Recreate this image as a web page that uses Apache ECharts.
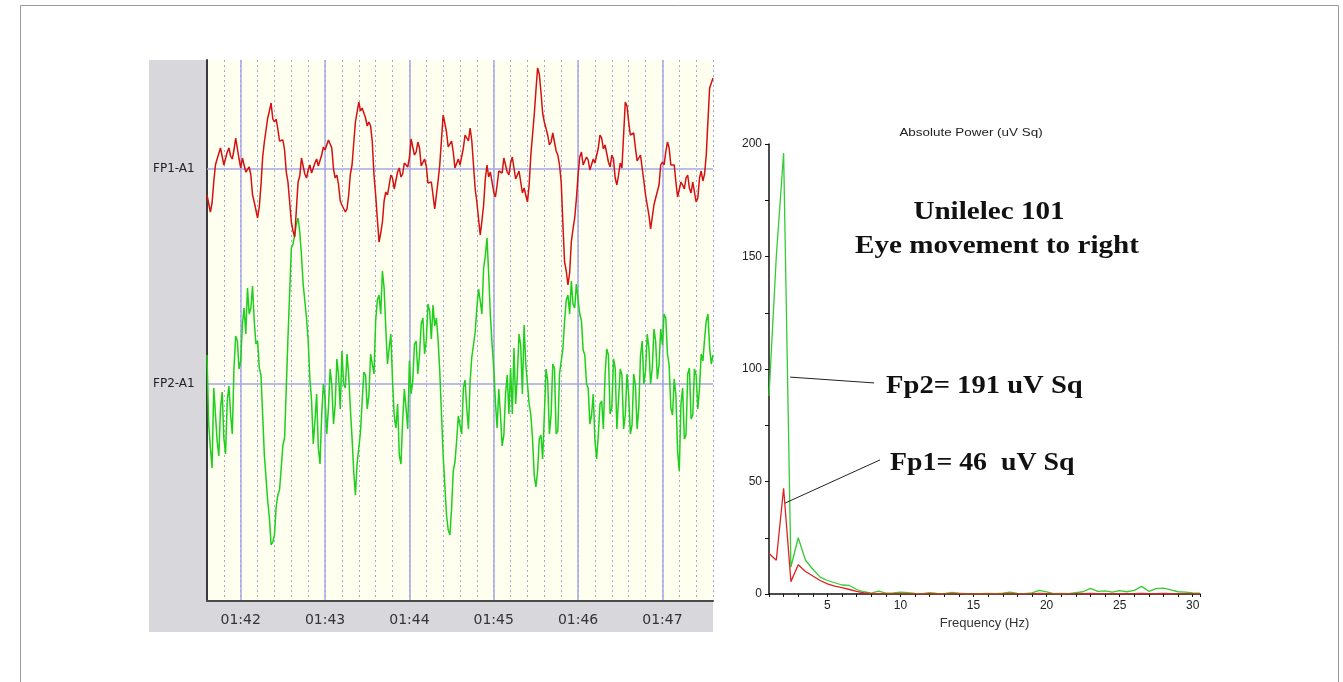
<!DOCTYPE html>
<html lang="en">
<head>
    <meta charset="UTF-8">
    <title>Unilelec 101 - Eye movement to right</title>
    <script src="https://cdn.jsdelivr.net/npm/echarts@6.0.0/dist/echarts.min.js"></script>
    <style>
        html, body { margin: 0; padding: 0; background: #fff; }
        #main { width: 1343px; height: 682px; }
    </style>
</head>
<body>
<div id="main"></div>
<script type="text/javascript">
    // EEG traces: one sample every 0.02 s, starting at 101.6 s (01:41.6)
    var t0 = 101.6;
    var dt = 0.02;
    // FP1-A1 amplitude (relative to its baseline)
    var fp1 = [
        -26, -28, -43, -34, -13, 4, 10, 10, 21, 19, 4, 5, 17, 21, 13, 10, 19, 31, 31, 10,
        1, 11, 9, -3, -3, 2, -6, -26, -33, -35, -49, -38, -16, 12, 27, 39, 51, 58, 66, 50,
        47, 50, 40, 28, 27, 29, 19, -3, -13, -33, -53, -62, -68, -40, -13, -7, 11, 9, -5, -9,
        -1, 4, -4, -5, 6, 10, 3, 2, 14, 22, 19, 18, 29, 31, 21, 0, -9, -6, -16, -32,
        -36, -34, -43, -40, -26, -5, 4, 26, 47, 57, 67, 58, 61, 62, 51, 43, 47, 43, 27, -6,
        -26, -50, -73, -64, -53, -32, -23, -26, -16, -6, -9, -20, -19, -3, 1, -8, -5, 6, 4, 2,
        11, 30, 32, 14, 17, 27, 21, 3, 1, 10, 3, -14, -16, -13, -26, -40, -39, -12, 4, 29,
        54, 46, 37, 22, 24, 28, 17, 1, 1, 10, 4, 4, 21, 34, 31, 28, 41, 28, 4, -20,
        -33, -50, -66, -52, -36, -10, 4, -8, -3, -5, -23, -28, -16, -2, -3, -4, 11, 12, -3, -6,
        6, 12, 1, -10, -6, -2, -13, -24, -19, -18, -33, -16, 14, 34, 54, 78, 101, 95, 77, 56,
        47, 46, 34, 24, 27, 36, 34, 18, 14, 4, -13, -55, -93, -102, -116, -104, -73, -60, -49, -30,
        -6, 12, 17, 4, 4, 12, 9, -1, 1, 10, 6, 8, 21, 34, 31, 20, 24, 24, 7, 2,
        14, 10, -9, -16, -6, 6, 1, 34, 67, 63, 47, 34, 34, 36, 21, 8, 11, 14, 1, -12,
        -26, -28, -46, -60, -59, -36, -29, -30, -16, 4, 7, 4, 17, 27, 21, 4, 4, 4, -13, -28,
        -26, -13, -16, -20, -9, -6, -19, -24, -13, -15, -33, -29, -9, -2, -12, -5, 14, 48, 81, 86,
        91];
    // FP2-A1 amplitude (relative to its baseline)
    var fp2 = [
        29, -40, -64, -84, -4, -30, -57, -72, -24, -8, -54, -70, -17, -2, -31, -50, 16, 48, 43, 15,
        23, 60, 76, 50, 96, 70, 76, 98, 63, 40, 43, 16, 9, -31, -71, -94, -117, -134, -161, -158,
        -151, -123, -111, -106, -84, -61, -54, -4, 46, 91, 136, 140, 149, 160, 166, 152, 129, 100, 83, 66,
        43, 5, -17, -60, -37, -10, -64, -80, -31, 0, -14, -50, -24, 15, -1, -40, -21, 25, 9, -25,
        33, 0, -4, 30, 9, -25, -54, -88, -111, -80, -64, -48, -17, 12, 9, -25, -11, 30, 29, 10,
        63, 84, 89, 70, 113, 96, 56, 20, 36, 50, 3, -32, -44, -20, -71, -80, -37, -5, -24, -45,
        23, -10, 3, 40, 43, 10, 29, 60, 66, 30, 43, 80, 73, 45, 79, 58, 66, 44, 13, -29,
        -71, -101, -131, -146, -151, -125, -87, -78, -57, -32, -31, -50, -4, 4, -24, -45, 3, 27, 39, 52,
        76, 95, 83, 70, 116, 128, 146, 110, 69, 40, 16, -18, -44, -5, -31, -62, -51, -10, 9, -30,
        16, -30, 36, -20, 9, 50, 39, -10, 59, 20, 19, -20, -31, -55, -91, -103, -87, -55, -51, -75,
        -31, 15, 3, -50, -31, 20, 16, -50, -47, 10, 23, 35, 63, 84, 89, 70, 103, 80, 76, 100,
        99, 70, 63, 34, 29, 0, -4, -40, -31, -10, -57, -75, -51, -20, -17, -45, 9, 35, 29, -30,
        -24, 25, 16, -45, -44, 15, 9, -45, -31, 10, -11, -50, -41, 10, -1, -45, -24, 28, 43, 0,
        13, 50, 36, 0, 16, 55, 43, 5, 19, 55, 39, 70, 66, 30, 19, -24, -31, 5, -11, -67,
        -87, -20, -4, -55, -51, 10, 16, -35, -31, 15, 9, -25, -4, 30, 23, 45, 63, 70, 36, 20,
        29];
    var secTicks = [102, 103, 104, 105, 106, 107];
    var secLabels = ['01:42', '01:43', '01:44', '01:45', '01:46', '01:47'];
    var channelNames = ['FP1-A1', 'FP2-A1'];

    // spectrum: 0.5 Hz bins starting at 1 Hz
    var freqStart = 1;
    var freqStep = 0.5;
    var powFp2 = [88, 150, 196, 12, 25, 15, 11, 7.5, 6, 5, 4, 3.8, 2, 1, 0.4, 1.3, 0.4, 0.5, 0.8, 0.6,
        0.3, 0.2, 0.6, 0.3, 0.2, 0.7, 0.4, 0.2, 0.1, 0.2, 0.3, 0.2, 0.4, 0.8, 0.3, 0.2, 0.5, 1.6, 0.9, 0.2,
        0.3, 0.2, 0.6, 1.0, 2.5, 1.2, 1.4, 0.8, 1.5, 1.0, 1.6, 3.4, 1.2, 2.4, 2.6, 1.8, 1.0, 0.8, 0.5, 0.4];
    var powFp1 = [18, 15, 47, 5.5, 13, 10, 8, 6, 4.5, 3.5, 2.8, 2, 1.2, 0.5, 0.2, 0.2, 0.1, 0.1, 0.2, 0.1,
        0.1, 0.1, 0.2, 0.1, 0.1, 0.2, 0.1, 0.1, 0.1, 0.1, 0.1, 0.1, 0.1, 0.2, 0.1, 0.1, 0.1, 0.3, 0.2, 0.1,
        0.1, 0.1, 0.1, 0.2, 0.3, 0.2, 0.2, 0.1, 0.2, 0.1, 0.2, 0.3, 0.2, 0.2, 0.3, 0.2, 0.1, 0.1, 0.1, 0.1];
    var powerLabels = [0, 50, 100, 150, 200];
    var freqLabels = [5, 10, 15, 20, 25, 30];

    var fp1Data = fp1.map(function (v, i) { return [t0 + i * dt, v]; });
    var fp2Data = fp2.map(function (v, i) { return [t0 + i * dt, v]; });
    var fp2Pow = powFp2.map(function (v, i) { return [freqStart + i * freqStep, v]; });
    var fp1Pow = powFp1.map(function (v, i) { return [freqStart + i * freqStep, v]; });

    var myChart = echarts.init(document.getElementById('main'));

    var serif = '"Liberation Serif", "DejaVu Serif", serif';
    var none = 'rgba(0,0,0,0)';

    var option = {
        animation: false,
        backgroundColor: '#fff',
        graphic: [
            // outer frame
            { type: 'rect', z: -20, silent: true, shape: { x: 20.5, y: 5.5, width: 1318, height: 700 },
              style: { fill: 'none', stroke: '#9a9a9a', lineWidth: 1 } },
            // grey panel behind the EEG traces
            { type: 'rect', z: -10, silent: true, shape: { x: 149, y: 60, width: 564, height: 572 },
              style: { fill: '#d8d8dc' } },
            { type: 'text', x: 153, y: 169, silent: true,
              style: { text: channelNames[0], fontSize: 12, fontFamily: 'DejaVu Sans', fill: '#222', verticalAlign: 'middle' } },
            { type: 'text', x: 153, y: 384, silent: true,
              style: { text: channelNames[1], fontSize: 12, fontFamily: 'DejaVu Sans', fill: '#222', verticalAlign: 'middle' } },
            { type: 'text', x: 971, y: 133, scaleX: 1.22, silent: true,
              style: { text: 'Absolute Power (uV Sq)', fontSize: 11, fontFamily: 'Liberation Sans', fill: '#222', align: 'center', verticalAlign: 'middle' } },
            { type: 'text', x: 989, y: 212, scaleX: 1.12, silent: true,
              style: { text: 'Unilelec 101', fontSize: 26, fontWeight: 'bold', fontFamily: serif, fill: '#111', align: 'center', verticalAlign: 'middle' } },
            { type: 'text', x: 997, y: 246, scaleX: 1.12, silent: true,
              style: { text: 'Eye movement to right', fontSize: 26, fontWeight: 'bold', fontFamily: serif, fill: '#111', align: 'center', verticalAlign: 'middle' } },
            { type: 'text', x: 886, y: 386, scaleX: 1.1, silent: true,
              style: { text: 'Fp2= 191 uV Sq', fontSize: 26, fontWeight: 'bold', fontFamily: serif, fill: '#111', verticalAlign: 'middle' } },
            { type: 'text', x: 890, y: 463, scaleX: 1.07, silent: true,
              style: { text: 'Fp1= 46  uV Sq', fontSize: 26, fontWeight: 'bold', fontFamily: serif, fill: '#111', verticalAlign: 'middle' } }
        ],
        grid: [
            { left: 207, top: 60, width: 506, height: 541, show: true, backgroundColor: '#fffff0', borderWidth: 0 },
            { left: 769, top: 144, width: 431, height: 450 }
        ],
        xAxis: [
            {
                // time axis, dotted line every 0.2 s
                gridIndex: 0, type: 'value', min: 101.6, max: 107.6, interval: 0.2,
                axisLine: { show: true, onZero: false, lineStyle: { color: '#4a4a4a', width: 2 } },
                axisTick: { show: false },
                axisLabel: {
                    fontSize: 14, fontFamily: 'DejaVu Sans', color: '#333', margin: 12,
                    formatter: function (v) {
                        for (var k = 0; k < secTicks.length; k++) {
                            if (Math.abs(v - secTicks[k]) < 1e-6) return secLabels[k];
                        }
                        return '';
                    }
                },
                splitLine: { show: true, lineStyle: { color: '#a8a8d8', type: [2, 3], width: 1 } }
            },
            {
                // same scale, only draws the solid line on each whole second
                gridIndex: 0, type: 'value', min: 101.6, max: 107.6, interval: 0.2,
                axisLine: { show: false }, axisTick: { show: false }, axisLabel: { show: false },
                splitLine: { show: true, lineStyle: { color: [none, none, '#a6a6ea', none, none], type: 'solid', width: 1.5 } }
            },
            {
                gridIndex: 1, type: 'value', min: 1, max: 30.5, interval: 1,
                name: 'Frequency (Hz)', nameLocation: 'middle', nameGap: 22,
                nameTextStyle: { fontSize: 13, fontFamily: 'Liberation Sans', color: '#333' },
                axisLine: { show: true, onZero: false, lineStyle: { color: '#111', width: 1.5 } },
                axisTick: { show: true, length: 3, lineStyle: { color: '#111' } },
                axisLabel: {
                    fontSize: 12, fontFamily: 'Liberation Sans', color: '#222', margin: 6,
                    formatter: function (v) { return freqLabels.indexOf(v) >= 0 ? String(v) : ''; }
                },
                splitLine: { show: false }
            }
        ],
        yAxis: [
            {
                gridIndex: 0, type: 'value', min: -432, max: 109,
                axisLine: { show: true, onZero: false, lineStyle: { color: '#3a3a3a', width: 2 } },
                axisTick: { show: false }, axisLabel: { show: false }, splitLine: { show: false }
            },
            {
                gridIndex: 0, type: 'value', min: -217, max: 324, show: false
            },
            {
                gridIndex: 1, type: 'value', min: 0, max: 200, interval: 25,
                axisLine: { show: true, onZero: false, lineStyle: { color: '#111', width: 1.5 } },
                axisTick: { show: true, length: 4, lineStyle: { color: '#111' } },
                axisLabel: {
                    fontSize: 12, fontFamily: 'Liberation Sans', color: '#222', margin: 7,
                    formatter: function (v) { return powerLabels.indexOf(v) >= 0 ? String(v) : ''; }
                },
                splitLine: { show: false }
            }
        ],
        series: [
            {
                name: 'FP2-A1', type: 'line', xAxisIndex: 0, yAxisIndex: 1, data: fp2Data,
                showSymbol: false, symbol: 'none',
                lineStyle: { color: '#1ecf1e', width: 1.5 },
                markLine: {
                    silent: true, symbol: 'none', z: 1, label: { show: false },
                    lineStyle: { color: '#a6a6ea', type: 'solid', width: 1.5 },
                    data: [{ yAxis: 0 }]
                }
            },
            {
                name: 'FP1-A1', type: 'line', xAxisIndex: 0, yAxisIndex: 0, data: fp1Data,
                showSymbol: false, symbol: 'none',
                lineStyle: { color: '#d41010', width: 1.5 },
                markLine: {
                    silent: true, symbol: 'none', z: 1, label: { show: false },
                    lineStyle: { color: '#a6a6ea', type: 'solid', width: 1.5 },
                    data: [{ yAxis: 0 }]
                }
            },
            {
                name: 'Fp2', type: 'line', xAxisIndex: 2, yAxisIndex: 2, data: fp2Pow,
                showSymbol: false, symbol: 'none',
                lineStyle: { color: '#33cc33', width: 1.3 },
                markLine: {
                    silent: true, symbol: 'none', label: { show: false },
                    lineStyle: { color: '#222', type: 'solid', width: 1 },
                    data: [
                        [{ coord: [2.45, 96.4] }, { coord: [8.2, 93.8] }],
                        [{ coord: [2.1, 40.4] }, { coord: [8.6, 59.6] }]
                    ]
                }
            },
            {
                name: 'Fp1', type: 'line', xAxisIndex: 2, yAxisIndex: 2, data: fp1Pow,
                showSymbol: false, symbol: 'none',
                lineStyle: { color: '#dd2222', width: 1.3 }
            }
        ]
    };

    myChart.setOption(option);
</script>
</body>
</html>
